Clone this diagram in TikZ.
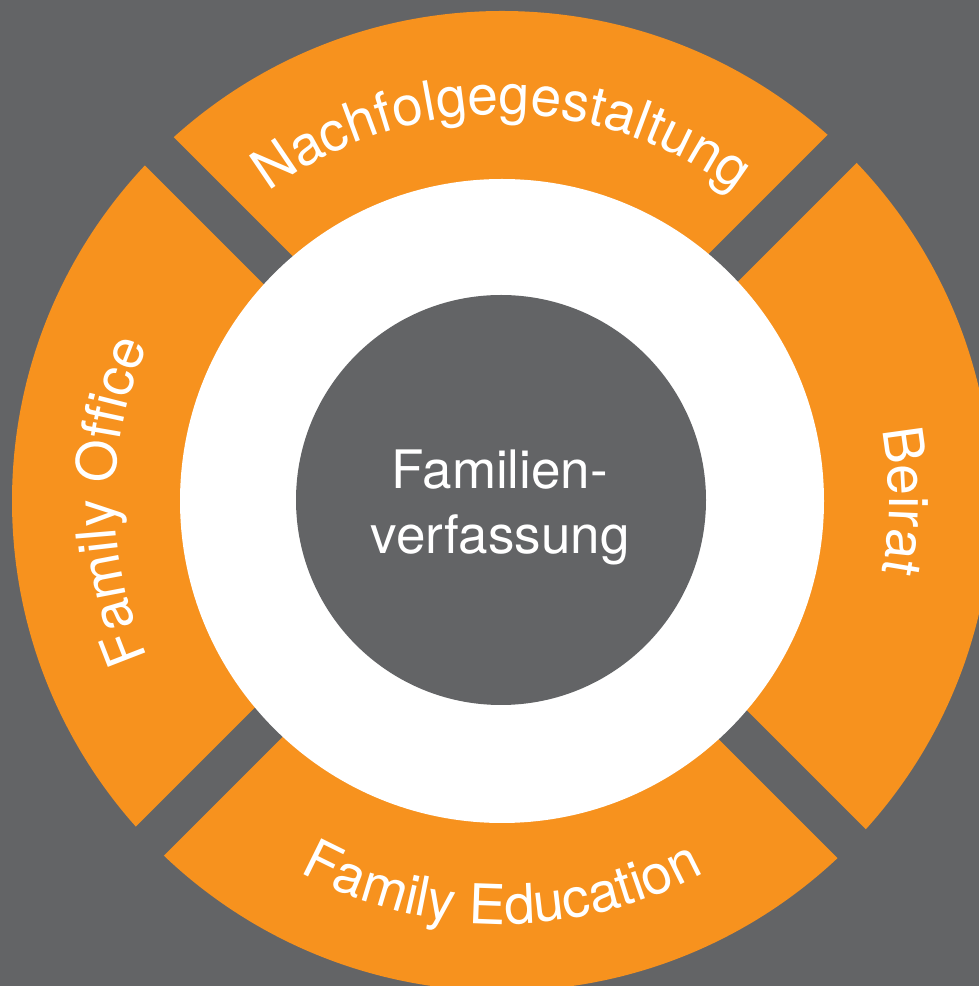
\documentclass[tikz,border=0pt]{standalone}
\usepackage{fontspec}
\setmainfont{TeX Gyre Heros}
\usetikzlibrary{decorations.text}
\definecolor{bg}{RGB}{99,100,102}
\definecolor{ring}{RGB}{247,146,30}
\newcommand\ringfont{\fontsize{55}{64}\selectfont\color{white}}
\begin{document}
\begin{tikzpicture}[x=1pt,y=1pt,
  bar/.style={draw=bg, line width=40pt},
  centertext/.style={anchor=base, text=white, inner sep=0pt, font=\fontsize{53}{64}\selectfont},
  arctext/.style={decorate, decoration={text along path, text align=center, text={|\ringfont|#1}}}]
\useasboundingbox (0,0) rectangle (979,986);
\fill[bg] (0,0) rectangle (979,986);
\clip (0,0) rectangle (979,986);
\coordinate (C) at (502,485);
\coordinate (G) at (499.5,494.5);
% orange ring
\fill[ring] (C) circle[radius=490];
% gaps
\coordinate (g1a) at ([shift={(45:620)}]G);
\coordinate (g1b) at ([shift={(225:620)}]G);
\coordinate (g2a) at ([shift={(135:620)}]G);
\coordinate (g2b) at ([shift={(315:620)}]G);
\draw[bar] (g1a) -- (g1b);
\draw[bar] (g2a) -- (g2b);
% white ring and core
\fill[white] (C) circle[radius=322];
\node[circle, fill=bg, minimum size=410pt, inner sep=0pt] (core) at (501,486) {};
\node[centertext] (line1) at (500,497) {Familien-};
\node[centertext] (line2) at (500,432) {verfassung};
% curved labels
\path[arctext={Nachfolgegestaltung}] ([shift={(160:387)}]C) arc[start angle=160, end angle=20, radius=387];
\path[arctext={Beirat}] ([shift={(45:387)}]C) arc[start angle=45, end angle=-45, radius=387];
\path[arctext={Family Office}] ([shift={(225:387)}]C) arc[start angle=225, end angle=135, radius=387];
\path[arctext={Family Education}] ([shift={(215:423)}]C) arc[start angle=215, end angle=325, radius=423];
\end{tikzpicture}
\end{document}
